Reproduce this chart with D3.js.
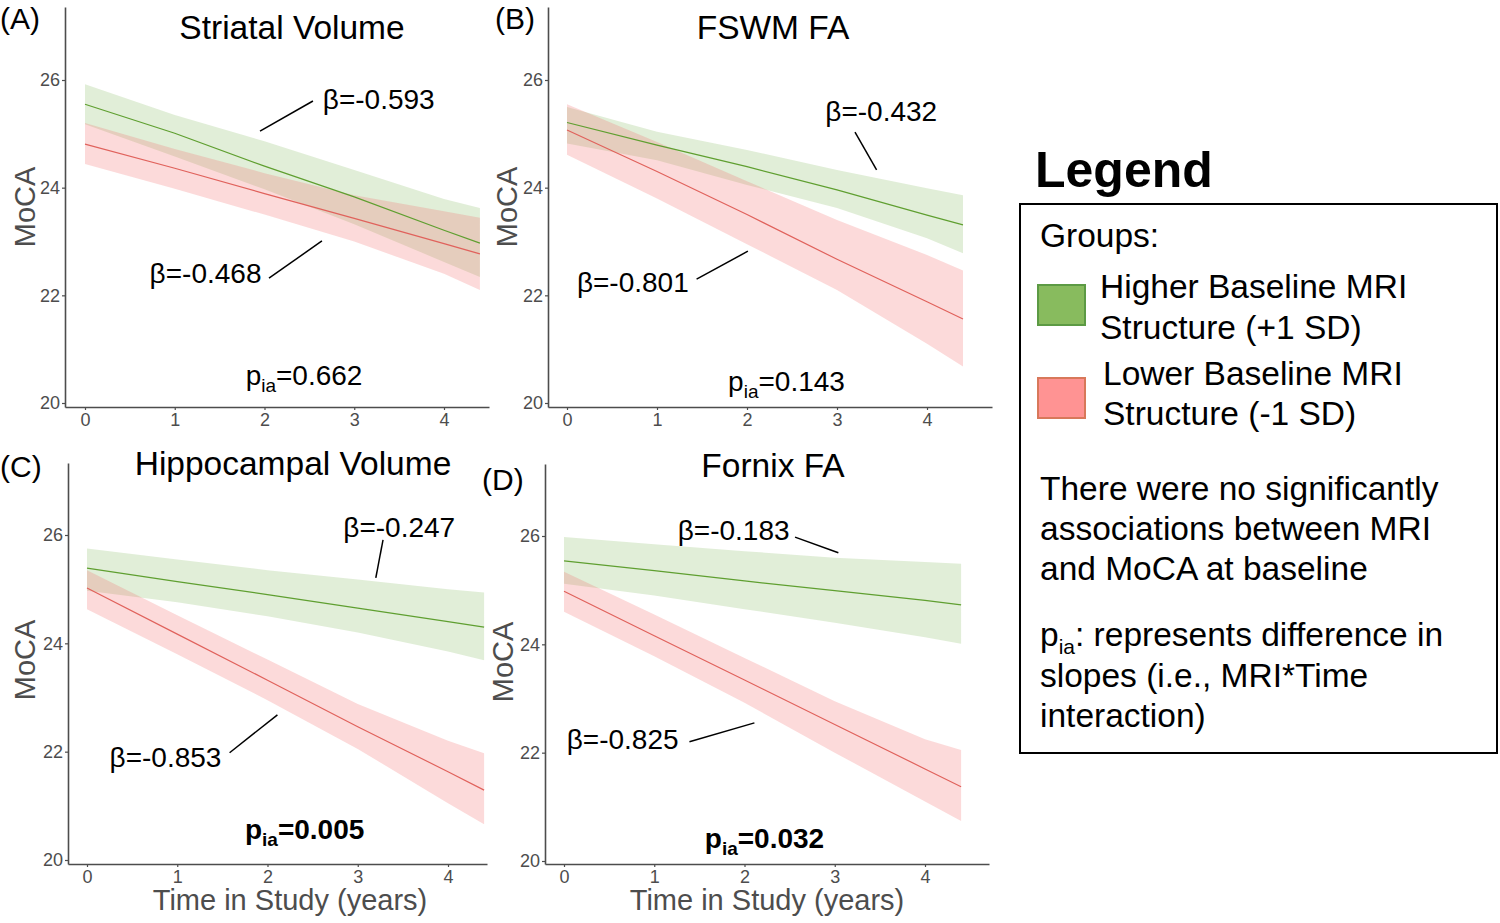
<!DOCTYPE html>
<html>
<head>
<meta charset="utf-8">
<script src="https://cdn.jsdelivr.net/npm/d3@7"></script>
<style>
  body { margin: 0; background: #fff; }
  svg { display: block; font-family: "Liberation Sans", Arial, Helvetica, sans-serif; }
</style>
</head>
<body>
<svg id="chart" width="1500" height="923"></svg>
<script>
// ---------------- DATA ----------------
const panelTitles = ["Striatal Volume", "FSWM FA", "Hippocampal Volume", "Fornix FA"];
const panelLetters = ["(A)", "(B)", "(C)", "(D)"];
const times = [0, 1, 2, 3, 4, 4.4];
const xTicks = [0, 1, 2, 3, 4];
const yTicks = [20, 22, 24, 26];

// Higher Baseline MRI Structure (+1 SD): fitted MoCA and CI
const highFit = [
  [25.55, 25.01, 24.40, 23.83, 23.21, 22.97],
  [25.21, 24.79, 24.39, 23.96, 23.49, 23.31],
  [25.39, 25.14, 24.90, 24.65, 24.40, 24.30],
  [25.54, 25.36, 25.17, 24.99, 24.81, 24.73]
];
const highLower = [
  [25.18, 24.58, 23.97, 23.32, 22.62, 22.34],
  [24.82, 24.51, 24.05, 23.62, 23.06, 22.78],
  [24.97, 24.76, 24.50, 24.20, 23.85, 23.69],
  [25.12, 24.90, 24.65, 24.40, 24.13, 24.01]
];
const highUpper = [
  [25.92, 25.35, 24.86, 24.33, 23.79, 23.62],
  [25.50, 25.04, 24.70, 24.33, 23.99, 23.86],
  [25.75, 25.55, 25.35, 25.18, 25.00, 24.94],
  [25.98, 25.85, 25.72, 25.60, 25.52, 25.49]
];

// Lower Baseline MRI Structure (-1 SD): fitted MoCA and CI
const lowFit = [
  [24.81, 24.36, 23.89, 23.43, 22.96, 22.77],
  [25.07, 24.30, 23.50, 22.67, 21.88, 21.56],
  [25.02, 24.17, 23.32, 22.46, 21.63, 21.29],
  [24.98, 24.16, 23.34, 22.52, 21.70, 21.37]
];
const lowLower = [
  [24.44, 23.98, 23.50, 23.00, 22.40, 22.10],
  [24.61, 23.80, 22.95, 22.10, 21.10, 20.68],
  [24.63, 23.80, 22.95, 22.05, 21.05, 20.66],
  [24.60, 23.78, 22.92, 22.00, 21.10, 20.74]
];
const lowUpper = [
  [25.20, 24.72, 24.27, 23.86, 23.56, 23.44],
  [25.55, 24.85, 24.12, 23.40, 22.75, 22.46],
  [25.35, 24.52, 23.70, 22.88, 22.20, 21.97],
  [25.34, 24.55, 23.75, 22.95, 22.25, 22.05]
];

const betaHigh = ["β=-0.593", "β=-0.432", "β=-0.247", "β=-0.183"];
const betaLow  = ["β=-0.468", "β=-0.801", "β=-0.853", "β=-0.825"];
const pInteraction = ["0.662", "0.143", "0.005", "0.032"];
const pSignificant = [false, false, true, true];

const legendGroups = ["Higher Baseline MRI|Structure (+1 SD)", "Lower Baseline MRI|Structure (-1 SD)"];
const legendNote1 = ["There were no significantly", "associations between MRI", "and MoCA at baseline"];
const legendNote2 = ["represents difference in", "slopes (i.e., MRI*Time", "interaction)"];

// ---------------- LAYOUT (pixels / annotation anchors) ----------------
const layout = [
  { axisX: 65,  x0: 85,  x4: 444, xEnd: 489, y26: 80,  y20: 403, top: 7,   bottom: 407,
    title: [292, 27], letter: [0, 18], moca: [25, 207], xTitle: null },
  { axisX: 548, x0: 567, x4: 927, xEnd: 992, y26: 80,  y20: 403, top: 7,   bottom: 407,
    title: [773, 27], letter: [495, 18], moca: [507, 207], xTitle: null },
  { axisX: 68,  x0: 87,  x4: 448, xEnd: 487, y26: 535, y20: 860, top: 463, bottom: 864,
    title: [293, 463], letter: [0, 466], moca: [25, 660], xTitle: [290, 900] },
  { axisX: 545, x0: 564, x4: 925, xEnd: 989, y26: 536, y20: 861, top: 464, bottom: 864,
    title: [773, 465], letter: [482, 479], moca: [503, 662], xTitle: [767, 900] }
];
// annotation anchors in data units: [textX, textY], segment [x1,y1,x2,y2]
const annHigh = [
  { t: [2.65, 25.63], s: [1.95, 25.05, 2.54, 25.61] },
  { t: [2.87, 25.41], s: [3.20, 25.03, 3.44, 24.33] },
  { t: [2.84, 26.13], s: [3.20, 25.21, 3.28, 25.91] },
  { t: [1.26, 26.11], s: [2.56, 25.98, 3.04, 25.69] }
];
const annLow = [
  { t: [0.72, 22.41], s: [2.05, 22.32, 2.64, 23.01] },
  { t: [0.11, 22.23], s: [1.44, 22.30, 2.01, 22.82] },
  { t: [0.25, 21.90], s: [1.58, 21.98, 2.11, 22.68] },
  { t: [0.03, 22.24], s: [1.39, 22.20, 2.11, 22.55] }
];
const annP = [[1.79, 20.50], [1.79, 20.39], [1.75, 20.55], [1.56, 20.41]];

const colors = {
  highLine: "#5f9f30", highBand: "#6aaa3a",
  lowLine: "#e0625c",  lowBand: "#f26a6a",
  axis: "#4d4d4d"
};

// ---------------- DRAW ----------------
const svg = d3.select("#chart");
svg.append("rect").attr("width", 1500).attr("height", 923).attr("fill", "#fff");

layout.forEach((L, i) => {
  const ux = (L.x4 - L.x0) / 4;
  const uy = (L.y20 - L.y26) / 6;
  const x = d3.scaleLinear()
    .domain([(L.axisX - L.x0) / ux, (L.xEnd - L.x0) / ux])
    .range([L.axisX, L.xEnd]);
  const y = d3.scaleLinear()
    .domain([20 - (L.bottom - L.y20) / uy, 26 + (L.y26 - L.top) / uy])
    .range([L.bottom, L.top]);

  const g = svg.append("g");

  const area = (lo, hi) => d3.area()
    .x((d, j) => x(times[j]))
    .y0((d, j) => y(lo[j]))
    .y1((d, j) => y(hi[j]))(times);
  const line = vals => d3.line()
    .x((d, j) => x(times[j]))
    .y((d, j) => y(vals[j]))(times);

  g.append("path").attr("d", area(highLower[i], highUpper[i]))
    .attr("fill", colors.highBand).attr("fill-opacity", 0.2);
  g.append("path").attr("d", area(lowLower[i], lowUpper[i]))
    .attr("fill", colors.lowBand).attr("fill-opacity", 0.25);
  g.append("path").attr("d", line(highFit[i]))
    .attr("fill", "none").attr("stroke", colors.highLine).attr("stroke-width", 1.2);
  g.append("path").attr("d", line(lowFit[i]))
    .attr("fill", "none").attr("stroke", colors.lowLine).attr("stroke-width", 1.2);

  // axes
  const ya = g.append("g").attr("transform", `translate(${L.axisX},0)`)
    .call(d3.axisLeft(y).tickValues(yTicks).tickFormat(d3.format("d"))
      .tickSize(3).tickSizeOuter(0).tickPadding(2));
  const xa = g.append("g").attr("transform", `translate(0,${L.bottom})`)
    .call(d3.axisBottom(x).tickValues(xTicks).tickFormat(d3.format("d"))
      .tickSize(3).tickSizeOuter(0).tickPadding(3));
  [ya, xa].forEach(a => {
    a.select(".domain").attr("stroke", colors.axis).attr("stroke-width", 1.6);
    a.selectAll(".tick line").attr("stroke", colors.axis).attr("stroke-width", 1.2);
    a.selectAll(".tick text").attr("fill", colors.axis)
      .style("font-size", "18px").style("font-family", "Liberation Sans, Arial, sans-serif");
  });

  // titles
  g.append("text").attr("x", L.title[0]).attr("y", L.title[1])
    .attr("text-anchor", "middle").attr("dominant-baseline", "central")
    .style("font-size", "33.5px").attr("fill", "#000").text(panelTitles[i]);
  g.append("text").attr("x", L.letter[0]).attr("y", L.letter[1])
    .attr("dominant-baseline", "central")
    .style("font-size", "30px").attr("fill", "#000").text(panelLetters[i]);
  g.append("text")
    .attr("transform", `translate(${L.moca[0]},${L.moca[1]}) rotate(-90)`)
    .attr("text-anchor", "middle").attr("dominant-baseline", "central")
    .style("font-size", "29px").attr("fill", colors.axis).text("MoCA");
  if (L.xTitle) {
    g.append("text").attr("x", L.xTitle[0]).attr("y", L.xTitle[1])
      .attr("text-anchor", "middle").attr("dominant-baseline", "central")
      .style("font-size", "29px").attr("fill", colors.axis).text("Time in Study (years)");
  }

  // beta annotations
  [[annHigh[i], betaHigh[i]], [annLow[i], betaLow[i]]].forEach(([a, label]) => {
    g.append("line")
      .attr("x1", x(a.s[0])).attr("y1", y(a.s[1]))
      .attr("x2", x(a.s[2])).attr("y2", y(a.s[3]))
      .attr("stroke", "#000").attr("stroke-width", 1.5);
    g.append("text").attr("x", x(a.t[0])).attr("y", y(a.t[1]))
      .attr("dominant-baseline", "central")
      .style("font-size", "28px").attr("fill", "#000").text(label);
  });

  // p interaction
  const pt = g.append("text").attr("x", x(annP[i][0])).attr("y", y(annP[i][1]) + 9)
    .style("font-size", "28px").style("font-weight", pSignificant[i] ? "bold" : "normal")
    .attr("fill", "#000");
  pt.append("tspan").text("p");
  pt.append("tspan").attr("dy", 7).style("font-size", "19px").text("ia");
  pt.append("tspan").attr("dy", -7).text("=" + pInteraction[i]);
});

// ---------------- LEGEND ----------------
const lg = svg.append("g");
lg.append("text").attr("x", 1035).attr("y", 187)
  .style("font-size", "50px").style("font-weight", "bold").attr("fill", "#000").text("Legend");
lg.append("rect").attr("x", 1020).attr("y", 204).attr("width", 477).attr("height", 549)
  .attr("fill", "none").attr("stroke", "#000").attr("stroke-width", 2);
lg.append("text").attr("x", 1040).attr("y", 247)
  .style("font-size", "33.5px").attr("fill", "#000").text("Groups:");

const swatchFill = ["#88bb5e", "#ff9393"];
const swatchStroke = ["#5c9a44", "#d8785a"];
const swatchY = [285, 378];
const groupTextX = [1100, 1103];
const groupBase = [[298, 339], [385, 425]];
legendGroups.forEach((lbl, k) => {
  lg.append("rect").attr("x", 1038).attr("y", swatchY[k]).attr("width", 47).attr("height", 40)
    .attr("fill", swatchFill[k]).attr("stroke", swatchStroke[k]).attr("stroke-width", 2);
  lbl.split("|").forEach((line, m) => {
    lg.append("text").attr("x", groupTextX[k]).attr("y", groupBase[k][m])
      .style("font-size", "33.5px").attr("fill", "#000").text(line);
  });
});
const note1Base = [500, 540, 580];
legendNote1.forEach((t, k) => {
  lg.append("text").attr("x", 1040).attr("y", note1Base[k])
    .style("font-size", "33.5px").attr("fill", "#000").text(t);
});
const note2Base = [646, 687, 727];
legendNote2.forEach((t, k) => {
  const tx = lg.append("text").attr("x", 1040).attr("y", note2Base[k])
    .style("font-size", "33.5px").attr("fill", "#000");
  if (k === 0) {
    tx.append("tspan").text("p");
    tx.append("tspan").attr("dy", 8).style("font-size", "21px").text("ia");
    tx.append("tspan").attr("dy", -8).text(": " + t);
  } else {
    tx.text(t);
  }
});
</script>
</body>
</html>
